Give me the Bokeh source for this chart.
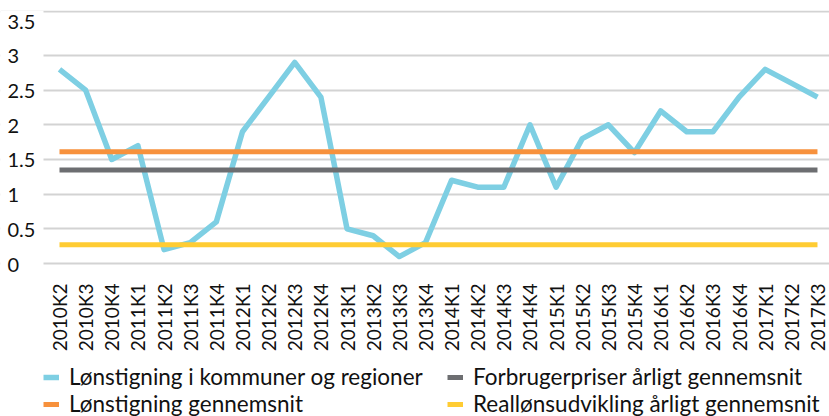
import math
from bokeh.plotting import figure
from bokeh.models import Range1d, FixedTicker, Legend, LegendItem, BoxAnnotation
from bokeh.core.properties import value
from bokeh.embed import file_html
from bokeh.resources import INLINE

# ---- data ----
categories = ["2010K2", "2010K3", "2010K4", "2011K1", "2011K2", "2011K3", "2011K4",
              "2012K1", "2012K2", "2012K3", "2012K4", "2013K1", "2013K2", "2013K3",
              "2013K4", "2014K1", "2014K2", "2014K3", "2014K4", "2015K1", "2015K2",
              "2015K3", "2015K4", "2016K1", "2016K2", "2016K3", "2016K4", "2017K1",
              "2017K2", "2017K3"]
wage_municipal = [2.8, 2.5, 1.5, 1.7, 0.2, 0.3, 0.6, 1.9, 2.4, 2.9, 2.4, 0.5, 0.4, 0.1,
                  0.3, 1.2, 1.1, 1.1, 2.0, 1.1, 1.8, 2.0, 1.6, 2.2, 1.9, 1.9, 2.4, 2.8,
                  2.6, 2.4]
wage_avg = 1.61
cpi_avg = 1.35
real_wage_avg = 0.27

y_ticks = [0, 0.5, 1, 1.5, 2, 2.5, 3, 3.5]
y_tick_labels = ["0", "0.5", "1", "1.5", "2", "2.5", "3", "3.5"]

names = ["Lønstigning i kommuner og regioner", "Lønstigning gennemsnit",
         "Forbrugerpriser årligt gennemsnit", "Reallønsudvikling årligt gennemsnit"]
colors = ["#7ECFE3", "#F7913C", "#6D6E71", "#FFCC33"]

# ---- layout constants (pixels) ----
FONT = "Lato"
TEXT = "#111111"
W, H = 829, 416
PLOT_LEFT = 43         # pixel column where the plotting area (grid) starts
LABEL_LEFT = 7         # pixel column where y tick labels start
FRAME_TOP = 10
ZERO_PX = 263          # pixel row of y = 0
PPU = 69.35            # pixels per unit on the y scale
PAD_L, PAD_R = 0.612, 0.46   # category padding inside plotting area

n = len(categories)
xs = list(range(n))
plot_start = -PAD_L
plot_end = (n - 1) + PAD_R
ppx = (W - PLOT_LEFT) / (plot_end - plot_start)
x_start = plot_start - PLOT_LEFT / ppx
y_start = -(H - ZERO_PX) / PPU
y_end = (ZERO_PX - FRAME_TOP) / PPU
top_grid = y_end - 1 / PPU

p = figure(width=W, height=H, output_backend="svg", toolbar_location=None,
           x_range=Range1d(x_start, plot_end), y_range=Range1d(y_start, y_end),
           x_axis_location=None, y_axis_location=None,
           min_border_left=0, min_border_right=0, min_border_top=FRAME_TOP,
           min_border_bottom=0)
p.outline_line_color = None
p.background_fill_color = "white"
p.border_fill_color = "white"

p.xgrid.visible = False
p.ygrid.ticker = FixedTicker(ticks=y_ticks[:-1] + [top_grid])
p.ygrid.grid_line_color = "#D3D3D3"
p.ygrid.grid_line_width = 2
# keep the label column free of grid lines
p.add_layout(BoxAnnotation(right=plot_start, fill_color="white", fill_alpha=1,
                           line_color=None, level="underlay"))

# y tick labels, left aligned
p.text(x=[x_start + LABEL_LEFT / ppx] * len(y_ticks), y=y_ticks, text=y_tick_labels,
       text_align="left", text_baseline="middle", y_offset=1,
       text_font=value(FONT), text_font_size="20px", text_color=TEXT)

# category labels under the zero line, rotated to read bottom-to-top
p.text(x=xs, y=[0] * n, text=categories, angle=math.pi / 2,
       text_align="right", text_baseline="middle", y_offset=20,
       text_font=value(FONT), text_font_size="19px", text_color=TEXT)

r_mun = p.line(xs, wage_municipal, line_color=colors[0], line_width=5.5,
               line_join="round")
r_avg = p.line(xs, [wage_avg] * n, line_color=colors[1], line_width=5)
r_cpi = p.line(xs, [cpi_avg] * n, line_color=colors[2], line_width=5)
r_real = p.line(xs, [real_wage_avg] * n, line_color=colors[3], line_width=5)

legend = Legend(items=[LegendItem(label=names[0], renderers=[r_mun]),
                       LegendItem(label=names[1], renderers=[r_avg]),
                       LegendItem(label=names[2], renderers=[r_cpi]),
                       LegendItem(label=names[3], renderers=[r_real])],
                location=(PLOT_LEFT, -1), orientation="vertical", ncols=2,
                padding=0, margin=0, spacing=0, border_line_color=None,
                background_fill_alpha=0, glyph_width=16, glyph_height=20,
                label_height=20, label_width=378, label_standoff=10,
                label_text_font=FONT, label_text_font_size="22.5px",
                label_text_color=TEXT)
p.add_layout(legend)

open("out.html", "w").write(file_html(p, INLINE))
